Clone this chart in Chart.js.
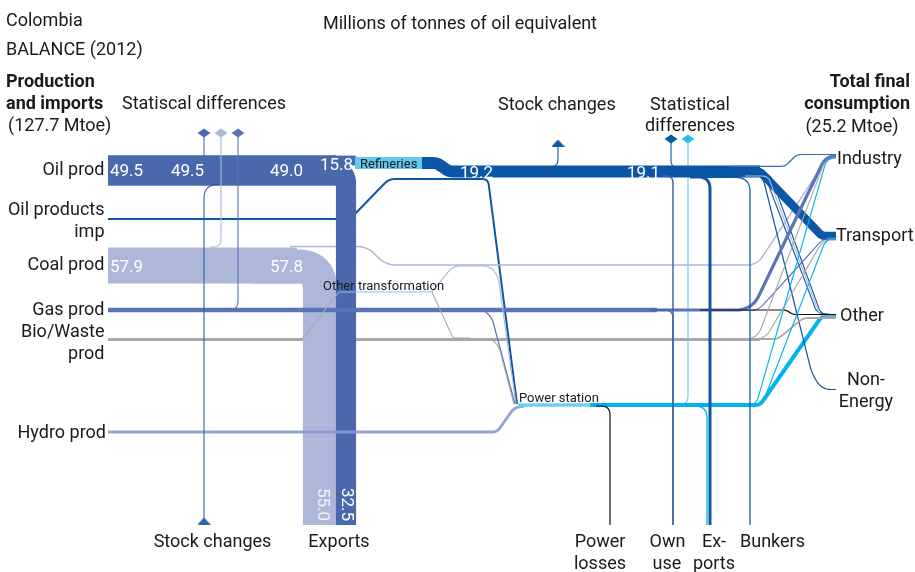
<!DOCTYPE html>
<html><head><meta charset="utf-8">
<script src="https://cdn.jsdelivr.net/npm/chart.js@4.4.1/dist/chart.umd.min.js"></script>
<style>html,body{margin:0;padding:0;background:#fff;overflow:hidden}#wrap{width:915px;height:572px}</style>
</head><body><div id="wrap"><canvas id="c" width="915" height="572"></canvas></div>
<script>
// ---------------- DATA (Mtoe, Colombia 2012) ----------------
const totalNames  = ['Production and imports', 'Total final consumption'];
const totalValues = [127.7, 25.2];
const sourceNames = ['Oil prod', 'Oil products imp', 'Coal prod', 'Gas prod', 'Bio/Waste prod', 'Hydro prod'];
const crudeNames  = ['Production', 'Stat. diff', 'Stock changes', 'Refineries', 'Exports'];
const crudeValues = [49.5, 0.05, 0.5, 15.8, 32.5];
const coalNames   = ['Production', 'Stat. diff', 'Exports', 'Industry', 'Other transf.', 'Other'];
const coalValues  = [57.9, 0.1, 55.0, 2.3, 1.8, 1.8];
const productNames  = ['Imports', 'Refinery output', 'Stock changes', 'Stat. diff', 'Own use', 'Exports', 'Bunkers', 'Industry', 'Transport', 'Other', 'Other (2)', 'Non-Energy'];
const productValues = [3.2, 19.2, 0.1, 0.1, 2.4, 4.8, 2.0, 2.0, 13.5, 1.8, 1.8, 2.0];
const gasNames   = ['Production', 'Stat. diff', 'Power', 'Own use', 'Industry', 'Transport', 'Other'];
const gasValues  = [6.9, 0.1, 2.0, 2.4, 5.2, 1.8, 2.0];
const bioNames   = ['Production', 'Other transf.', 'Power', 'Industry', 'Transport', 'Other'];
const bioValues  = [4.5, 1.8, 1.8, 1.8, 1.8, 3.0];
const hydroNames = ['Production'];
const hydroValues = [4.6];
const otNames    = ['To power', 'To bio'];
const otValues   = [1.8, 1.8];
const elecNames  = ['Power output', 'Losses', 'Stat. diff', 'Exports', 'Industry', 'Transport', 'Other'];
const elecValues = [6.0, 2.0, 2.0, 2.2, 1.8, 1.8, 6.4];

// ---------------- STYLE ----------------
const K = 0.62;                       // pixels per Mtoe for line thickness
const w = v => Math.max(1.1, v * K);
const C = {
  crude:'#4a69ad', coal:'#adb7da', gas:'#5a74b7', bio:'#a8a8a8', hydro:'rgba(137,153,207,0.9)',
  prod:'#0b57a5', prodL:'#2e6db7', elec:'#00b3ef', elecL:'#6ecff3', ref:'#64c9f1', own:'#3e66ae',
  stock:'#2d5fab', loss:'#111111', text:'#1a1a1a'
};

// rounded polyline helper (geometry only)
function rounded(pts, r) {
  if (!r || pts.length < 3) return pts;
  const out = [pts[0]], n = pts.length;
  for (let i = 1; i < n - 1; i++) {
    const [x0, y0] = pts[i-1], [x1, y1] = pts[i], [x2, y2] = pts[i+1];
    const d1 = Math.hypot(x1-x0, y1-y0), d2 = Math.hypot(x2-x1, y2-y1);
    const rr = Math.min(r, i === 1 ? d1 : d1/2, i === n-2 ? d2 : d2/2);
    const ax = x1 + (x0-x1)*rr/d1, ay = y1 + (y0-y1)*rr/d1;
    const bx = x1 + (x2-x1)*rr/d2, by = y1 + (y2-y1)*rr/d2;
    for (let s = 0; s <= 12; s++) {
      const t = s/12, u = 1-t;
      out.push([u*u*ax + 2*u*t*x1 + t*t*bx, u*u*ay + 2*u*t*y1 + t*t*by]);
    }
  }
  out.push(pts[n-1]);
  return out;
}

// marker glyphs (flattened diamond / flat triangle)
function glyph(kind, color) {
  const cv = document.createElement('canvas');
  cv.width = kind === 'diamond' ? 14 : 13; cv.height = kind === 'diamond' ? 10 : 7;
  const g = cv.getContext('2d'); g.fillStyle = color; g.beginPath();
  if (kind === 'diamond') { g.moveTo(7, 0.5); g.lineTo(13.5, 5); g.lineTo(7, 9.5); g.lineTo(0.5, 5); }
  else { g.moveTo(6.5, 0); g.lineTo(13, 7); g.lineTo(0, 7); }
  g.closePath(); g.fill();
  return cv;
}

// ---------------- LAYOUT (routes) ----------------
const flows = [];
const F = (v, c, pts, r, layer) => flows.push({ v, c, pts, r: r || 0, layer });
// layer 0 : under the export bars
F(bioValues[0], C.bio, [[108,339.5],[760,339.5]], 0, 0);
F(productValues[0], C.prod, [[108,219],[350,219],[389,179],[488,179],[517,404]], 6, 0);
F(coalValues[3], C.coal, [[290,246.5],[367,246.5],[386,265],[757,265],[828,157],[836,157]], 10, 0);
// layer 1 : main bands
F(coalValues[0], C.coal, [[108,265.5],[297,265.5]], 0, 1);
F(coalValues[2], C.coal, [[250,266.5],[320,266.5],[320,525]], 22, 1);
F(crudeValues[0], C.crude, [[108,170.5],[336,170.5]], 0, 1);
F(crudeValues[4], C.crude, [[300,170.5],[346,170.5],[346,525]], 13, 1);
F(crudeValues[3], C.crude, [[330,160.5],[356,160.5]], 0, 1);
// layer 2 : everything else
F(gasValues[0], C.gas, [[108,310],[657,310]], 0, 2);
F(hydroValues[0], C.hydro, [[108,432],[497,432],[514,408],[524,406]], 5, 2);
F(bioValues[1], C.bio, [[290,339.5],[302,339.5],[339,292]], 4, 2);
F(otValues[0], C.coal, [[432,292],[453,266],[490,266],[498,276],[516,404]], 7, 2);
F(otValues[1], C.bio, [[432,292],[453,338],[470,338]], 3, 2);
F(coalValues[4], C.elecL, [[339,292],[432,292]], 0, 2);
F(gasValues[2], C.gas, [[470,310],[484,310],[492,318],[515,404]], 7, 2);
F(bioValues[2], C.bio, [[480,339],[492,339],[499,347],[514,404]], 7, 2);
// stat diffs & stocks
F(crudeValues[1], C.crude, [[204,133],[204,156]], 0, 2);
F(crudeValues[2], C.stock, [[222,184.5],[204,184.5],[204,520]], 14, 2);
F(coalValues[1], C.coal, [[221,133],[221,247],[210,247]], 8, 2);
F(gasValues[1], C.gas, [[238,133],[238,310],[226,310]], 9, 2);
F(productValues[2], C.prod, [[546,167],[558,167],[558,145]], 8, 2);
F(productValues[3], C.prod, [[671,139],[671,168],[682,168]], 8, 2);
F(elecValues[2], C.elecL, [[688,139],[688,405],[676,405]], 9, 2);
// refineries
F(productValues[1], C.ref, [[355,163],[422,163]], 0, 2);
F(productValues[1], C.prod, [[422,163],[437,163],[449,171.5],[760,171.5]], 4, 2);
// power station output
F(elecValues[0], C.elecL, [[518,405],[591,405]], 0, 2);
F(elecValues[6], C.elec, [[590,405],[760,405],[822,316],[836,316]], 5, 2);
F(elecValues[1], C.loss, [[596,406],[610,406],[610,525]], 9, 2);
// final consumption fan
F(productValues[7], C.prodL, [[730,166.3],[785,166.3],[797,154.5],[836,154.5]], 4, 2);
F(productValues[8], C.prod, [[700,171.5],[760,171.5],[822,236],[836,236]], 4, 2);
F(productValues[9], C.prod, [[740,173],[764,173],[817,313],[836,315]], 6, 2);
F(productValues[10], C.prod, [[740,174],[770,174],[821,314],[836,315]], 6, 2);
F(productValues[11], C.prod, [[740,174],[762,174],[812,374],[822,389.5],[836,389.5]], 10, 2);
F(coalValues[5], C.coal, [[745,176],[768,176],[820,316],[836,316]], 6, 2);
F(gasValues[4], C.gas, [[650,310],[752,310],[826,156],[836,156]], 16, 2);
F(gasValues[5], C.gas, [[700,310.5],[758,310.5],[824,238],[836,238]], 8, 2);
F(gasValues[6], C.loss, [[700,310],[786,310],[793,314.5],[836,314.5]], 3, 2);
F(bioValues[3], C.bio, [[700,339],[757,339],[826,158],[836,158]], 12, 2);
F(bioValues[4], C.bio, [[700,339],[765,339],[824,239],[836,239]], 10, 2);
F(bioValues[5], C.bio, [[700,339],[778,339],[803,318],[836,318]], 6, 2);
F(elecValues[4], C.elec, [[700,405],[756,405],[827,158],[836,158]], 8, 2);
F(elecValues[5], C.elec, [[700,405],[762,405],[826,239],[836,239]], 8, 2);
// own use, exports, bunkers
F(productValues[4], C.own, [[662,176],[673,176],[673,525]], 7, 2);
F(gasValues[3], C.own, [[650,310],[673,310],[673,525]], 8, 2);
F(productValues[5], C.prod, [[690,177],[710,177],[710,525]], 12, 2);
F(productValues[6], C.prod, [[700,177.5],[750,177.5],[750,525]], 14, 2);
F(elecValues[3], C.elec, [[694,406],[707,406],[707,525]], 12, 2);

// markers (diamonds = statistical differences, triangles = stock changes)
const markers = [
  { x:204, y:133, k:'diamond', c:C.crude }, { x:221, y:133, k:'diamond', c:C.coal }, { x:238, y:133, k:'diamond', c:C.gas },
  { x:671, y:139, k:'diamond', c:C.prod },  { x:688, y:139, k:'diamond', c:'#2cbdf0' },
  { x:204, y:521, k:'triangle', c:C.stock }, { x:558, y:143, k:'triangle', c:C.prod }
];

const datasets = [];
[0,1,2].forEach(L => flows.filter(f => f.layer === L).forEach(f => {
  datasets.push({
    data: rounded(f.pts, f.r).map(p => ({ x: p[0], y: p[1] })),
    borderColor: f.c, borderWidth: w(f.v), pointRadius: 0, fill: false,
    tension: 0.000001, borderCapStyle: 'butt', borderJoinStyle: 'round', clip: false
  });
}));
markers.forEach(m => datasets.push({
  data: [{ x: m.x, y: m.y }], showLine: false, pointStyle: glyph(m.k, m.c), pointRadius: 6,
  pointBackgroundColor: m.c, pointBorderWidth: 0, pointBorderColor: m.c, clip: false
}));
datasets.forEach((d, i) => d.order = -i);

// ---------------- TEXT ----------------
const F18 = '18px Roboto', B18 = 'bold 18px Roboto', F13 = '13px Roboto', N17 = '17px Roboto';
const f1 = v => v.toFixed(1);
const texts = [
  ['Colombia', 6, 26, F18, 'left'], ['BALANCE (2012)', 6, 54.5, F18, 'left'],
  ['Millions of tonnes of oil equivalent', 323, 29, F18, 'left'],
  ['Production', 6, 87, B18, 'left'], ['and imports', 6, 109, B18, 'left'],
  ['(' + f1(totalValues[0]) + ' Mtoe)', 8, 131, F18, 'left'],
  ['Statiscal differences', 122, 109, F18, 'left'],
  ['Stock changes', 498, 109.5, F18, 'left'],
  ['Statistical', 690, 109.5, F18, 'center'], ['differences', 690, 131, F18, 'center'],
  ['Total final', 910, 87, B18, 'right'], ['consumption', 910, 109, B18, 'right'],
  ['(' + f1(totalValues[1]) + ' Mtoe)', 852, 131.5, F18, 'center'],
  ['Oil prod', 104.5, 175, F18, 'right'], ['Oil products', 104.5, 215, F18, 'right'], ['imp', 104.5, 237, F18, 'right'],
  ['Coal prod', 104.5, 270, F18, 'right'], ['Gas prod', 104.5, 315, F18, 'right'],
  ['Bio/Waste', 104.5, 337, F18, 'right'], ['prod', 104.5, 358.5, F18, 'right'], ['Hydro prod', 106, 437.5, F18, 'right'],
  ['Industry', 837, 163.5, F18, 'left'], ['Transport', 836, 241, F18, 'left'], ['Other', 840, 321, F18, 'left'],
  ['Non-', 866, 385, F18, 'center'], ['Energy', 866, 407, F18, 'center'],
  ['Stock changes', 212.5, 547, F18, 'center'], ['Exports', 339, 547, F18, 'center'],
  ['Power', 600, 547, F18, 'center'], ['losses', 600, 568.5, F18, 'center'],
  ['Own', 667.5, 547, F18, 'center'], ['use', 667, 568.5, F18, 'center'],
  ['Ex-', 714, 547, F18, 'center'], ['ports', 714, 568.5, F18, 'center'],
  ['Bunkers', 772.5, 547, F18, 'center'],
  ['Refineries', 360, 168, F13, 'left'], ['Other transformation', 323, 289.5, F13, 'left'],
  ['Power station', 519, 401.5, F13, 'left'],
  [f1(crudeValues[0]), 110, 175.5, N17, 'left', '#fff'], [f1(crudeValues[0]), 171, 175.5, N17, 'left', '#fff'],
  [f1(crudeValues[0] - crudeValues[2]), 270, 175.5, N17, 'left', '#fff'],
  [f1(crudeValues[3]), 320, 169.5, N17, 'left', '#fff'],
  [f1(coalValues[0]), 110, 272, N17, 'left', '#fff'], [f1(coalValues[0] - coalValues[1]), 270, 272, N17, 'left', '#fff'],
  [f1(productValues[1]), 460, 177.5, N17, 'left', '#fff'], [f1(productValues[1] - productValues[2]), 627, 177.5, N17, 'left', '#fff'],
  [f1(coalValues[2]), 318, 488, N17, 'left', '#f2f4fa', true], [f1(crudeValues[4]), 341.5, 488, N17, 'left', '#fff', true]
];
const textPlugin = {
  id: 'texts',
  afterDatasetsDraw(chart) {
    const { ctx, scales: { x, y } } = chart;
    texts.forEach(([t, tx, ty, font, align, col, rot]) => {
      ctx.save();
      ctx.font = font; ctx.fillStyle = col || C.text; ctx.textAlign = align; ctx.textBaseline = 'alphabetic';
      const px = x.getPixelForValue(tx), py = y.getPixelForValue(ty);
      if (rot) { ctx.translate(px, py); ctx.rotate(Math.PI / 2); ctx.fillText(t, 0, 0); }
      else ctx.fillText(t, px, py);
      ctx.restore();
    });
  }
};

new Chart(document.getElementById('c'), {
  type: 'line',
  data: { datasets },
  options: {
    responsive: false, animation: false, events: [],
    layout: { padding: 0, autoPadding: false },
    scales: {
      x: { type: 'linear', min: 0, max: 915, display: false },
      y: { type: 'linear', min: 0, max: 572, reverse: true, display: false }
    },
    plugins: { legend: { display: false }, tooltip: { enabled: false } }
  },
  plugins: [textPlugin]
});
</script></body></html>
